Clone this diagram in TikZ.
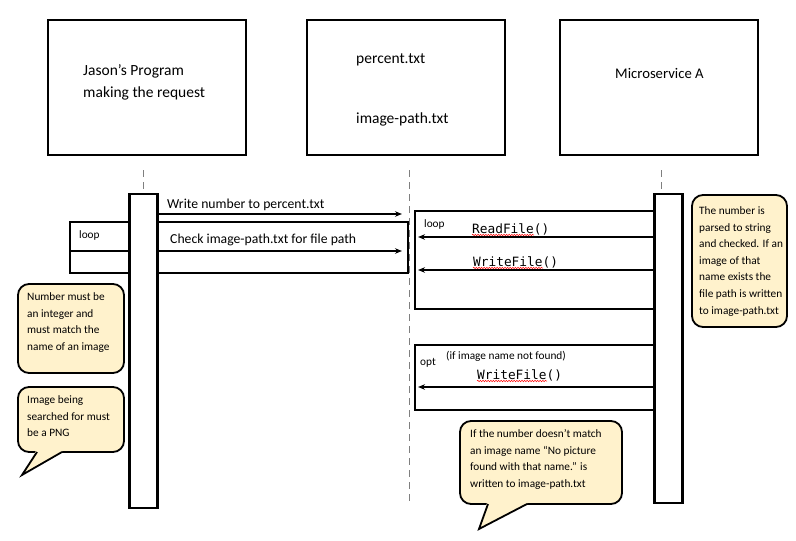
\documentclass[tikz,border=0pt]{standalone}
\usepackage{fontspec}
\setmainfont{Carlito}
\newfontfamily\codefont{DejaVu Sans Mono}
\usetikzlibrary{arrows.meta,decorations.pathmorphing,calc}
\definecolor{notefill}{HTML}{FFF2CC}
\definecolor{lifegray}{HTML}{7F7F7F}
\tikzset{
  actor/.style={draw, line width=2.5pt, minimum width=198pt, minimum height=135pt, inner sep=0, outer sep=0},
  actlbl/.style={anchor=base west, inner sep=0, font=\fontsize{15.5}{17}\selectfont},
  bar/.style={draw, fill=white, line width=2.5pt, minimum width=28pt, inner sep=0, outer sep=0},
  frame/.style={draw, line width=2.5pt, inner sep=0, outer sep=0},
  life/.style={draw=lifegray, line width=1pt, dash pattern=on 7pt off 5pt},
  msg/.style={line width=1.8pt, -{Stealth[length=7pt,width=5.5pt]}},
  msglbl/.style={anchor=base west, inner sep=0, font=\fontsize{13.7}{15}\selectfont},
  codelbl/.style={anchor=base west, inner sep=0, font=\codefont\fontsize{12.8}{14}\selectfont},
  framelbl/.style={anchor=base west, inner sep=0, font=\fontsize{11.3}{13}\selectfont},
  squiggle/.style={draw=red, line width=0.5pt, decorate, decoration={snake, amplitude=0.7pt, segment length=2.6pt}},
  note/.style={draw, fill=notefill, line width=1.8pt, rounded corners=11pt, inner sep=0, outer sep=0},
  notetext/.style={anchor=north west, inner sep=0, align=left, font=\fontsize{11.3}{16.6}\selectfont},
  tail/.style={draw, line width=1.8pt, line join=miter},
}
\begin{document}
\begin{tikzpicture}[x=1pt, y=-1pt]
\useasboundingbox (0,0) rectangle (796,541);

% participants
\node[actor] (jp) at (147,87.5) {};
\node[actlbl] (jpt) at (83,75) {Jason’s Program};
\node[actlbl] (jpt2) at (83,97) {making the request};
\node[actor] (files) at (406,87.5) {};
\node[actlbl] (pct) at (356,63) {percent.txt};
\node[actlbl] (ipt) at (356,123) {image-path.txt};
\node[actor] (ms) at (659,87.5) {};
\node[actlbl, font=\fontsize{14.7}{16}\selectfont] (mst) at (615,78) {Microservice A};

% frames
\node[frame, minimum width=338pt, minimum height=51pt] (loopL) at (239,247.5) {};
\node[framelbl] (loopLt) at (79,238) {loop};
\node[frame, minimum width=239pt, minimum height=98pt] (loopR) at (534.5,260) {};
\node[framelbl] (loopRt) at (424,227) {loop};
\node[frame, minimum width=239pt, minimum height=65pt] (optR) at (534.5,377.5) {};
\node[framelbl] (optRt) at (420,365) {opt};
\node[framelbl] (optcond) at (446,359) {(if image name not found)};

% lifelines
\coordinate (l1top) at (143.5,170);
\coordinate (l2top) at (409,170);
\coordinate (l2bot) at (409,505);
\coordinate (l3top) at (661,170);
\draw[life] (l2top) -- (l2bot);

% messages
\coordinate (m1) at (402,214);
\coordinate (m2) at (402,251);
\draw[msg] (143,214) -- (m1);
\draw[msg] (loopL.west |- m2) -- (m2);
\node[msglbl] (m1t) at (167,208) {Write number to percent.txt};
\node[msglbl] (m2t) at (170,243) {Check image-path.txt for file path};

\coordinate (r1) at (418,237);
\coordinate (r2) at (418,270);
\coordinate (r3) at (418,387);
\draw[msg] (660,237) -- (r1);
\draw[msg] (660,270) -- (r2);
\draw[msg] (660,387) -- (r3);
\node[codelbl] (rf) at (472,233) {ReadFile()};
\node[codelbl] (wf1) at (473,266) {WriteFile()};
\node[codelbl] (wf2) at (477,379) {WriteFile()};
\draw[squiggle] ([yshift=-2pt]rf.base west) -- ++(62,0);
\draw[squiggle] ([yshift=-2pt]wf1.base west) -- ++(70,0);
\draw[squiggle] ([yshift=-2pt]wf2.base west) -- ++(70,0);

% activation bars
\node[bar, minimum height=314pt] (bar1) at (143.5,351) {};
\node[bar, minimum height=309pt] (bar3) at (668.5,348.5) {};
\draw[life] (l1top) -- (l1top |- bar1.north);
\draw[life] (l3top) -- (l3top |- bar3.north);

% notes
\node[note, minimum width=95pt, minimum height=132pt] (nr) at (739.5,261) {};
\node[notetext] (nrt) at (699,206.5) {The number is\\parsed to string\\and checked. If an\\image of that\\name exists the\\file path is written\\to image-path.txt};

\node[note, minimum width=106pt, minimum height=89pt] (n1) at (71,328.5) {};
\node[notetext] (n1t) at (27,292.5) {Number must be\\an integer and\\must match the\\name of an image};

\node[note, minimum width=106pt, minimum height=65pt] (n2) at (71,419.5) {};
\node[notetext] (n2t) at (27,395.5) {Image being\\searched for must\\be a PNG};
\coordinate (n2tip) at (22,475);
\fill[notefill] ($(n2.south west)+(18,-1.2)$) -- (n2tip) -- ($(n2.south west)+(45,-1.2)$) -- cycle;
\draw[tail] ($(n2.south west)+(19,0)$) -- (n2tip) -- ($(n2.south west)+(44,0)$);

\node[note, minimum width=162pt, minimum height=83pt] (n3) at (541,462.5) {};
\node[notetext] (n3t) at (470,429.5) {If the number doesn’t match\\an image name “No picture\\found with that name.” is\\written to image-path.txt};
\coordinate (n3tip) at (479,529);
\fill[notefill] ($(n3.south west)+(27,-1.2)$) -- (n3tip) -- ($(n3.south west)+(68,-1.2)$) -- cycle;
\draw[tail] ($(n3.south west)+(28,0)$) -- (n3tip) -- ($(n3.south west)+(67,0)$);
\end{tikzpicture}
\end{document}
